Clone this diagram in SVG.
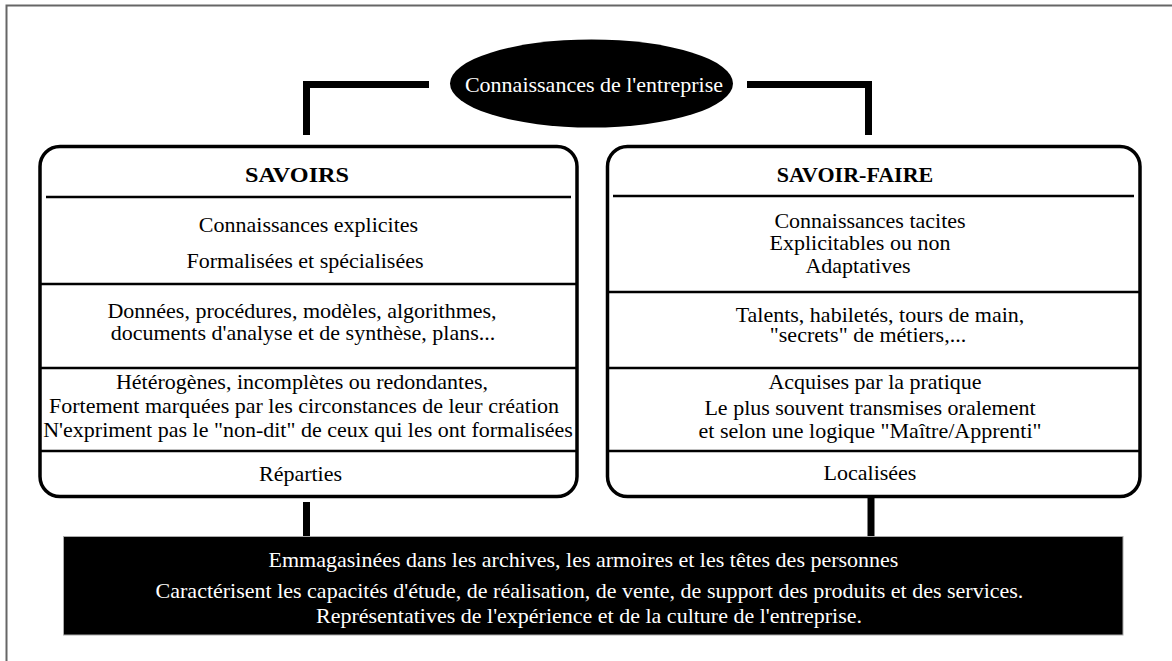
<svg xmlns="http://www.w3.org/2000/svg" width="1172" height="661" viewBox="0 0 1172 661">
<style>
text{font-family:'Liberation Serif','Times New Roman','DejaVu Serif',serif;font-size:22px;fill:#000;text-anchor:middle}
.b{font-weight:bold}
.w{fill:#fff}
.box{fill:#fff;stroke:#000;stroke-width:3.5}
.div{stroke:#000;stroke-width:2.5;fill:none}
.con{stroke:#000;stroke-width:7;fill:none;stroke-linecap:butt;stroke-linejoin:miter}
</style>
<rect x="0" y="0" width="1172" height="661" fill="#fff"/>
<path d="M6.5 661 V5.5 H1172" fill="none" stroke="#666" stroke-width="2"/>
<g id="connectors">
<path class="con" d="M429 84.5 H306.5 V135"/>
<path class="con" d="M747 84.5 H868.5 V135"/>
<path class="con" d="M306.5 502 V536"/>
<path class="con" d="M871 497 V536"/>
</g>
<g id="root">
<ellipse cx="591.5" cy="83.5" rx="141.5" ry="44" fill="#000"/>
<text class="w" x="594" y="92">Connaissances de l'entreprise</text>
</g>
<g id="savoirs">
<rect class="box" x="40" y="146.5" width="537" height="350" rx="20" ry="20"/>
<line class="div" x1="46" y1="197" x2="571" y2="197"/>
<line class="div" x1="40" y1="284" x2="577" y2="284"/>
<line class="div" x1="40" y1="368" x2="577" y2="368"/>
<line class="div" x1="40" y1="451" x2="577" y2="451"/>
<text class="b" x="297" y="182" textLength="104" lengthAdjust="spacingAndGlyphs">SAVOIRS</text>
<text x="308.5" y="232">Connaissances explicites</text>
<text x="305" y="268">Formalisées et spécialisées</text>
<text x="302" y="318">Données, procédures, modèles, algorithmes,</text>
<text x="303" y="340">documents d'analyse et de synthèse, plans...</text>
<text x="302" y="389">Hétérogènes, incomplètes ou redondantes,</text>
<text x="304" y="413">Fortement marquées par les circonstances de leur création</text>
<text x="308" y="437">N'expriment pas le "non-dit" de ceux qui les ont formalisées</text>
<text x="300.5" y="481">Réparties</text>
</g>
<g id="savoir-faire">
<rect class="box" x="607.5" y="146.5" width="532.5" height="350" rx="20" ry="20"/>
<line class="div" x1="613" y1="196" x2="1134" y2="196"/>
<line class="div" x1="607.5" y1="292" x2="1140" y2="292"/>
<line class="div" x1="607.5" y1="368" x2="1140" y2="368"/>
<line class="div" x1="607.5" y1="451" x2="1140" y2="451"/>
<text class="b" x="855" y="182">SAVOIR-FAIRE</text>
<text x="870" y="228">Connaissances tacites</text>
<text x="860" y="250">Explicitables ou non</text>
<text x="858" y="273">Adaptatives</text>
<text x="880" y="322">Talents, habiletés, tours de main,</text>
<text x="868" y="342">"secrets" de métiers,...</text>
<text x="875" y="389">Acquises par la pratique</text>
<text x="870" y="415">Le plus souvent transmises oralement</text>
<text x="870" y="438">et selon une logique "Maître/Apprenti"</text>
<text x="870" y="480">Localisées</text>
</g>
<g id="stockage">
<rect x="63.5" y="536.5" width="1059.5" height="98.5" fill="#000" stroke="#aaa" stroke-width="1"/>
<text class="w" x="583.5" y="567">Emmagasinées dans les archives, les armoires et les têtes des personnes</text>
<text class="w" x="589.5" y="598">Caractérisent les capacités d'étude, de réalisation, de vente, de support des produits et des services.</text>
<text class="w" x="589" y="623">Représentatives de l'expérience et de la culture de l'entreprise.</text>
</g>
</svg>
